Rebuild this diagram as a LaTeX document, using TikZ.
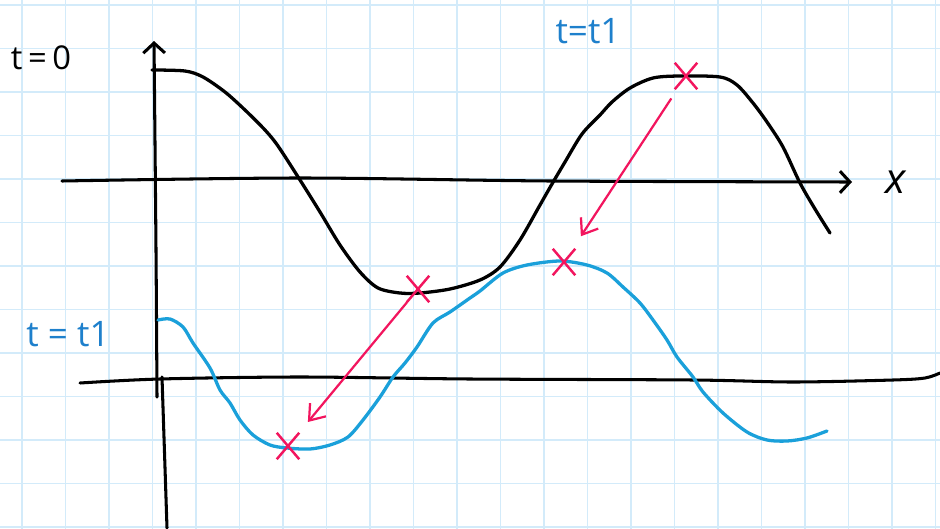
\documentclass[tikz,border=0pt]{standalone}
\usepackage{fontspec}
\setmainfont{Open Sans}
\usepackage{tikz}
\usetikzlibrary{arrows.meta,shapes.misc}
\definecolor{gridblue}{HTML}{D3EBFA}
\definecolor{waveblue}{HTML}{1AA0DA}
\definecolor{labelblue}{HTML}{1E80CC}
\definecolor{shiftpink}{HTML}{F2155E}

\begin{document}
\begin{tikzpicture}[
  x=0.03cm,
  y=-0.03cm,
  gridline/.style={
    draw=gridblue,
    line width=1.3pt
  },
  axisline/.style={
    draw=black,
    line width=2.6pt,
    line cap=round
  },
  axistip/.style={
    -{Straight Barb[length=0.3cm,width=0.65cm]}
  },
  wavezero/.style={
    draw=black,
    line width=2.8pt,
    line cap=round,
    line join=round
  },
  wavelater/.style={
    draw=waveblue,
    line width=2.8pt,
    line cap=round,
    line join=round
  },
  crossmark/.style={
    cross out,
    draw=shiftpink,
    line width=2.1pt,
    inner sep=0pt,
    minimum width=0.6cm,
    minimum height=0.72cm
  },
  shiftarrow/.style={
    -{Straight Barb[length=0.42cm,width=0.62cm]},
    draw=shiftpink,
    line width=1.9pt
  },
  zerolabel/.style={
    text=black,
    inner sep=0pt,
    font=\fontsize{28}{32}\selectfont
  },
  latelabel/.style={
    text=labelblue,
    inner sep=0pt,
    font=\fontsize{30}{34}\selectfont
  }
]

\fill[white] (0,0) rectangle (940,529);
\useasboundingbox (0,0) rectangle (940,529);

% Squared paper
\foreach \gx in {0,...,21}
  \draw[gridline] ({22+43.5*\gx},0) -- ({22+43.5*\gx},529);
\foreach \gy in {0,...,12}
  \draw[gridline] (0,{5+43.5*\gy}) -- (940,{5+43.5*\gy});

% Axes
\draw[axisline, axistip] plot[smooth] coordinates {(157,397) (156,250) (154,41)};
\draw[axisline] (162,377) -- (167,528);
\draw[axisline, axistip] plot[smooth] coordinates {(62,181) (300,178) (550,181) (852,182)};
\draw[axisline] plot[smooth] coordinates {(80,383) (160,379) (300,377) (470,379) (693,380) (793,382) (893,380) (925,378) (940,373)};

% Wave at t = 0
\draw[wavezero] plot[smooth] coordinates {
  (152,70) (185,71) (203,77) (225,92) (245,110) (265,130) (278,146)
  (300,180) (320,212) (340,245) (360,272) (378,288) (400,293) (420,293)
  (450,289) (480,280) (500,267) (520,240) (540,205) (552,184) (565,162)
  (582,134) (600,115) (612,102) (630,88) (653,78) (680,76) (720,77)
  (737,85) (753,103) (767,122) (783,147) (800,183) (815,209) (830,233)};

% Wave at t = t1
\draw[wavelater] plot[smooth] coordinates {
  (158,320) (170,319) (183,327) (193,343) (210,368) (220,390) (230,403)
  (240,420) (253,435) (270,445) (287,448) (310,449) (330,445) (348,437)
  (363,420) (380,397) (393,377) (405,363) (417,347) (433,323) (450,312)
  (470,298) (480,291) (503,273) (527,265) (560,261) (587,265) (607,273)
  (623,287) (640,303) (653,320) (667,340) (677,357) (693,377) (703,392)
  (723,413) (747,432) (767,440) (787,441) (807,438) (827,431)};

% Tracked crests and troughs
\node[crossmark] (crestzero)   at (686,76)  {};
\node[crossmark] (crestlater)  at (564,262) {};
\node[crossmark] (troughzero)  at (418,289) {};
\node[crossmark] (troughlater) at (288,446) {};

\draw[shiftarrow, shorten <=0.33cm, shorten >=0.45cm] (crestzero) -- (crestlater);
\draw[shiftarrow, shorten >=0.42cm] (troughzero) -- (troughlater);

% Labels
\node[zerolabel]  (zerotag)   at (41,58)  {t\,=\,0};
\node[latelabel]  (latertop)  at (588,31) {t=t1};
\node[latelabel]  (laterlow)  at (68,334) {t = t1};
\node[zerolabel, font=\fontsize{36}{40}\selectfont\itshape] (xtag) at (896,182) {x};

\end{tikzpicture}
\end{document}
